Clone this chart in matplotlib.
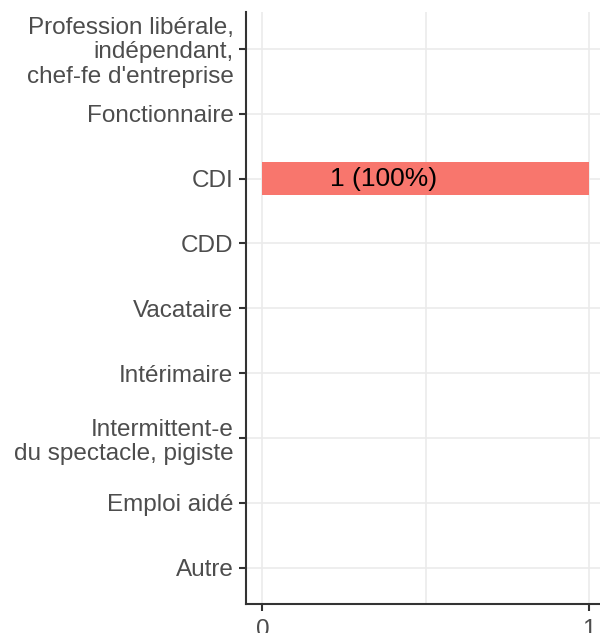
import matplotlib
matplotlib.use("Agg")
import matplotlib.pyplot as plt

plt.rcParams['font.family'] = ['Liberation Sans', 'DejaVu Sans']

categories = ["Profession libérale,\nindépendant,\nchef-fe d'entreprise",
              "Fonctionnaire", "CDI", "CDD", "Vacataire", "Intérimaire",
              "Intermittent-e\ndu spectacle, pigiste", "Emploi aidé", "Autre"]
values = [0, 0, 1, 0, 0, 0, 0, 0, 0]
labels = ["", "", "1 (100%)", "", "", "", "", "", ""]
label_x = 0.37

fig = plt.figure(figsize=(6, 6.33), dpi=100)
W, H = 600, 633
left, right, top, bottom = 246, 605, 12, 604
ax = fig.add_axes([left / W, 1 - bottom / H, (right - left) / W, (bottom - top) / H])

pos = list(range(len(categories)))[::-1]
ax.barh(pos, values, height=0.5, color="#F8766D", zorder=3)
for p, v, lab in zip(pos, values, labels):
    if lab:
        ax.text(label_x, p, lab, ha="center", va="center", fontsize=19, color="black", zorder=4)

ax.set_xlim(-0.05, 1.05)
ax.set_ylim(-0.56, 8.57)
ax.set_xticks([0, 1])
ax.set_xticklabels(["0", "1"])
ax.set_xticks([0.5], minor=True)
ax.set_yticks(pos)
ax.set_yticklabels(categories, ha="right", multialignment="right", linespacing=1.12)

ax.grid(True, which="both", color="#ebebeb", linewidth=1.2, zorder=0)
ax.tick_params(axis="x", which="minor", length=0)
ax.tick_params(axis="both", which="major", length=5, width=1.5, color="#333333",
               labelsize=17.5, labelcolor="#4d4d4d", pad=4)
ax.tick_params(axis="x", which="major", pad=6)
for s in ["top", "right"]:
    ax.spines[s].set_visible(False)
for s in ["left", "bottom"]:
    ax.spines[s].set_linewidth(1.5)
    ax.spines[s].set_color("#333333")
ax.set_axisbelow(True)

fig.savefig("out.png", dpi=100)
